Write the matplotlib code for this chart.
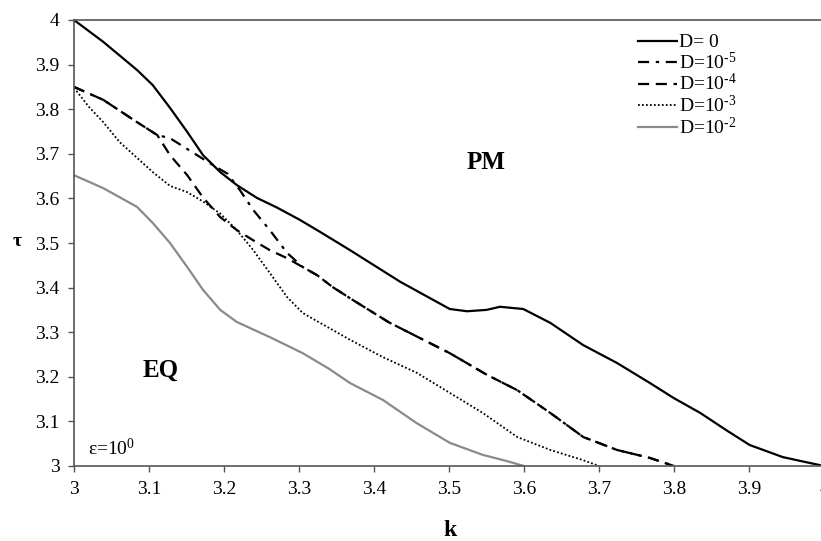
import numpy as np
import matplotlib
matplotlib.use("Agg")
from matplotlib import pyplot as plt

plt.rcParams['font.family'] = ['Liberation Serif', 'DejaVu Serif']
plt.rcParams['mathtext.fontset'] = 'custom'
plt.rcParams['mathtext.rm'] = 'Liberation Serif'
plt.rcParams['mathtext.it'] = 'Liberation Serif:italic'

# stability boundary tau(k) for each noise level D
k_d0 = [3.000, 3.039, 3.084, 3.105, 3.128, 3.151, 3.172, 3.195, 3.217, 3.244, 3.270,
        3.301, 3.328, 3.368, 3.435, 3.501, 3.524, 3.550, 3.568, 3.599, 3.635, 3.679,
        3.724, 3.768, 3.800, 3.835, 3.870, 3.901, 3.945, 3.975, 4.000]
tau_d0 = [4.000, 3.951, 3.888, 3.854, 3.803, 3.749, 3.697, 3.659, 3.630, 3.601, 3.580,
          3.552, 3.525, 3.484, 3.413, 3.352, 3.347, 3.350, 3.357, 3.352, 3.321, 3.271,
          3.231, 3.186, 3.152, 3.119, 3.080, 3.047, 3.020, 3.009, 3.000]

k_d5 = [3.000, 3.039, 3.084, 3.111, 3.128, 3.164, 3.185, 3.205, 3.221, 3.239, 3.261,
        3.284, 3.305, 3.324, 3.345, 3.372, 3.420, 3.501, 3.550, 3.591, 3.635, 3.679,
        3.724, 3.768, 3.800]
tau_d5 = [3.850, 3.821, 3.771, 3.742, 3.735, 3.697, 3.675, 3.655, 3.619, 3.574, 3.529,
          3.478, 3.446, 3.428, 3.401, 3.372, 3.322, 3.253, 3.205, 3.170, 3.119, 3.065,
          3.036, 3.018, 3.000]

k_d4 = [3.000, 3.039, 3.084, 3.111, 3.128, 3.151, 3.172, 3.195, 3.217, 3.239, 3.261,
        3.284, 3.305, 3.324, 3.345, 3.372, 3.420, 3.501, 3.550, 3.591, 3.635, 3.679,
        3.724, 3.768, 3.800]
tau_d4 = [3.850, 3.821, 3.771, 3.742, 3.697, 3.652, 3.602, 3.558, 3.529, 3.506, 3.484,
          3.466, 3.446, 3.428, 3.401, 3.372, 3.322, 3.253, 3.205, 3.170, 3.119, 3.065,
          3.036, 3.018, 3.000]

k_d3 = [3.000, 3.020, 3.039, 3.061, 3.084, 3.105, 3.128, 3.151, 3.172, 3.195, 3.217,
        3.239, 3.261, 3.284, 3.305, 3.328, 3.368, 3.412, 3.457, 3.501, 3.545, 3.591,
        3.635, 3.679, 3.700]
tau_d3 = [3.848, 3.805, 3.771, 3.726, 3.691, 3.659, 3.628, 3.614, 3.593, 3.566, 3.529,
          3.484, 3.433, 3.379, 3.343, 3.321, 3.283, 3.244, 3.209, 3.164, 3.119, 3.065,
          3.036, 3.013, 3.000]

k_d2 = [3.000, 3.039, 3.084, 3.105, 3.128, 3.151, 3.172, 3.195, 3.217, 3.261, 3.305,
        3.340, 3.368, 3.412, 3.457, 3.501, 3.545, 3.575, 3.600]
tau_d2 = [3.652, 3.623, 3.581, 3.545, 3.500, 3.446, 3.395, 3.350, 3.323, 3.289, 3.253,
          3.218, 3.186, 3.148, 3.096, 3.052, 3.025, 3.012, 3.000]

xticks = [3.0, 3.1, 3.2, 3.3, 3.4, 3.5, 3.6, 3.7, 3.8, 3.9, 4.0]
xtick_labels = ["3", "3.1", "3.2", "3.3", "3.4", "3.5", "3.6", "3.7", "3.8", "3.9", "4"]
yticks = [3.0, 3.1, 3.2, 3.3, 3.4, 3.5, 3.6, 3.7, 3.8, 3.9, 4.0]
ytick_labels = ["3", "3.1", "3.2", "3.3", "3.4", "3.5", "3.6", "3.7", "3.8", "3.9", "4"]


fig = plt.figure(figsize=(8.21, 5.41), dpi=100)
ax = fig.add_axes([74/821, 1 - 466/541, 750/821, 446/541])

ax.plot(k_d0, tau_d0, color="black", lw=1.6, label="D= 0")
ax.plot(k_d5, tau_d5, color="black", lw=1.6, ls=(0, (5, 3, 1.5, 3)), label=r"D=10$^{\text{-5}}$")
ax.plot(k_d4, tau_d4, color="black", lw=1.6, ls=(0, (5, 3)), label=r"D=10$^{\text{-4}}$")
ax.plot(k_d3, tau_d3, color="black", lw=1.3, ls=(0, (1, 1.2)), label=r"D=10$^{\text{-3}}$")
ax.plot(k_d2, tau_d2, color="#8a8a8a", lw=1.6, label=r"D=10$^{\text{-2}}$")

ax.set_xlim(3, 4)
ax.set_ylim(3, 4)
ax.set_xticks(xticks)
ax.set_xticklabels(xtick_labels)
ax.set_yticks(yticks)
ax.set_yticklabels(ytick_labels)
ax.tick_params(direction="out", length=4.5, width=1, color="#555555",
               labelsize=14, pad=6)
for side in ["left", "bottom", "top"]:
    ax.spines[side].set_color("#555555")
    ax.spines[side].set_linewidth(1.2)
ax.spines["right"].set_visible(False)

ax.text(3.55, 3.68, "PM", fontsize=18, fontweight="bold", ha="center", va="center")
ax.text(3.115, 3.215, "EQ", fontsize=18, fontweight="bold", ha="center", va="center")
ax.text(3.018, 3.04, r"ε=10$^{0}$", fontsize=14, ha="left", va="center")

fig.text(17/821, 1 - 242/541, "τ", fontsize=14, fontweight="bold", ha="center", va="center")
fig.text(450/821, 1 - 530/541, "k", fontsize=17, fontweight="bold", ha="center", va="center")

ax.legend(loc="upper left", bbox_to_anchor=(628/821, 1 - 24/541),
          bbox_transform=fig.transFigure, frameon=False, fontsize=14,
          handlelength=2.0, handletextpad=0.1, labelspacing=0.02, borderpad=0)

plt.savefig("out.png", dpi=100)
